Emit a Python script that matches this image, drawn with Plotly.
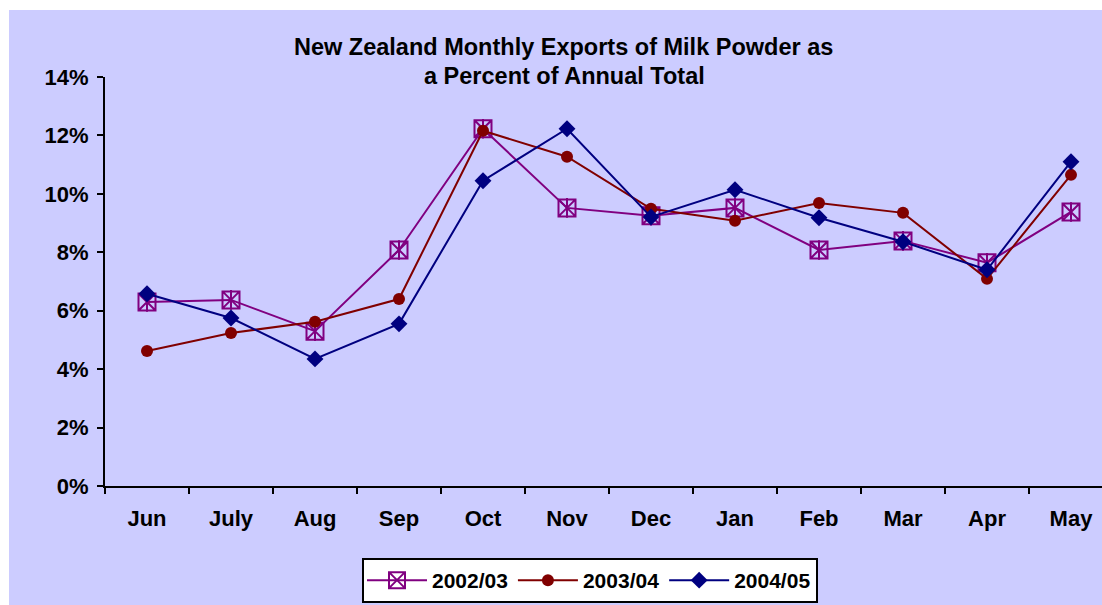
import plotly.graph_objects as go

months = ["Jun", "July", "Aug", "Sep", "Oct", "Nov", "Dec", "Jan", "Feb", "Mar", "Apr", "May"]
s2002 = [6.30, 6.37, 5.30, 8.08, 12.23, 9.52, 9.25, 9.52, 8.08, 8.39, 7.64, 9.38]
s2003 = [4.62, 5.24, 5.62, 6.40, 12.16, 11.27, 9.49, 9.08, 9.69, 9.35, 7.09, 10.65]
s2004 = [6.58, 5.75, 4.35, 5.55, 10.45, 12.23, 9.21, 10.14, 9.18, 8.36, 7.40, 11.10]
y_ticks = [0, 2, 4, 6, 8, 10, 12, 14]
y_labels = [f"{v}%" for v in y_ticks]

W, H = 1102, 605
L, T, B = 105, 77, 605 - 486
plot_h = H - T - B
plot_w = W - L
cat_w = 84.0

FONT = "Liberation Sans, Arial, sans-serif"
LAV = "#CCCCFF"

def py(p):
    return (H - B - p) / plot_h

def px(p):
    return (p - L) / plot_w

fig = go.Figure()
fig.add_trace(go.Scatter(
    x=months, y=s2002, name="2002/03", mode="lines+markers",
    line=dict(color="#800080", width=2), legendgroup="a",
    marker=dict(symbol="square-x-open", size=17, color="#800080", line=dict(width=2, color="#800080")),
))
fig.add_trace(go.Scatter(
    x=months, y=s2002, name="2002/03", mode="markers", showlegend=False, legendgroup="a",
    marker=dict(symbol="line-ns-open", size=14, color="#800080", line=dict(width=2, color="#800080")),
))
fig.add_trace(go.Scatter(
    x=months, y=s2003, name="2003/04", mode="lines+markers",
    line=dict(color="#800000", width=2),
    marker=dict(symbol="circle", size=12, color="#800000"),
))
fig.add_trace(go.Scatter(
    x=months, y=s2004, name="2004/05", mode="lines+markers",
    line=dict(color="#000080", width=2),
    marker=dict(symbol="diamond", size=13, color="#000080"),
))

x_end = -0.5 + plot_w / cat_w

fig.update_layout(
    width=W, height=H,
    margin=dict(l=L, r=0, t=T, b=B, autoexpand=False),
    paper_bgcolor="white",
    plot_bgcolor=LAV,
    font=dict(family=FONT, size=21, color="black"),
    showlegend=True,
    legend=dict(
        orientation="h", x=px(590), xanchor="center", y=py(558), yanchor="top",
        bgcolor="white", bordercolor="black", borderwidth=2,
        font=dict(family=FONT, size=21, color="black", weight="bold"),
        itemwidth=60, tracegroupgap=0,
    ),
    xaxis=dict(
        type="category", range=[-0.5, x_end], showgrid=False, zeroline=False,
        showline=True, linecolor="black", linewidth=2,
        ticks="outside", tickson="boundaries", ticklen=6, tickwidth=2, tickcolor="black",
        tickfont=dict(family=FONT, size=22, color="black", weight="bold"),
        ticklabelstandoff=12,
        fixedrange=True,
    ),
    yaxis=dict(
        range=[0, 14], tickvals=y_ticks, ticktext=y_labels, showgrid=False, zeroline=False,
        showline=True, linecolor="black", linewidth=2,
        ticks="outside", ticklen=6, tickwidth=2, tickcolor="black",
        tickfont=dict(family=FONT, size=22, color="black", weight="bold"),
        ticklabelstandoff=4,
        fixedrange=True,
    ),
    shapes=[dict(
        type="rect", xref="paper", yref="paper", layer="below",
        x0=px(9), x1=px(W + 5), y0=py(10), y1=py(H + 5),
        fillcolor=LAV, line=dict(width=0),
    )],
    annotations=[
        dict(text="<b>New Zealand Monthly Exports of Milk Powder as</b>", xref="paper", yref="paper",
             x=px(563), y=py(47), xanchor="center", yanchor="middle", showarrow=False,
             font=dict(family=FONT, size=23.5, color="black")),
        dict(text="<b>a Percent of Annual Total</b>", xref="paper", yref="paper",
             x=px(564), y=py(76), xanchor="center", yanchor="middle", showarrow=False,
             font=dict(family=FONT, size=23.5, color="black")),
    ],
)

fig.write_html(
    "out.html",
    config={"displayModeBar": False},
    post_script="document.body.style.margin='0';document.documentElement.style.overflow='hidden';document.body.style.overflow='hidden';",
)
